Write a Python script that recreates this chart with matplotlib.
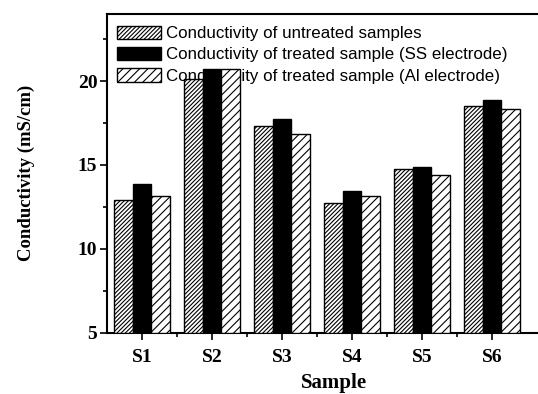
import numpy as np
import matplotlib.pyplot as plt
from matplotlib.ticker import MultipleLocator

samples = ['S1', 'S2', 'S3', 'S4', 'S5', 'S6']
untreated = [12.93, 20.13, 17.33, 12.75, 14.74, 18.53]
treated_ss = [13.87, 20.75, 17.75, 13.45, 14.86, 18.85]
treated_al = [13.15, 20.7, 16.82, 13.12, 14.43, 18.35]

labels = ['Conductivity of untreated samples',
          'Conductivity of treated sample (SS electrode)',
          'Conductivity of treated sample (Al electrode)']

plt.rcParams['hatch.linewidth'] = 0.8

fig = plt.figure(figsize=(5.38, 3.94), dpi=100)
# axes runs past the right edge of the figure
ax = fig.add_axes([107 / 538, 1 - 332.7 / 394, (561 - 107) / 538, (332.7 - 14) / 394])

x = np.arange(1, len(samples) + 1)
w = 0.267
ax.bar(x - w, np.array(untreated) - 5, w, bottom=5, color='white', edgecolor='black',
       hatch='////////', linewidth=1.0, label=labels[0], zorder=3)
ax.bar(x, np.array(treated_ss) - 5, w, bottom=5, color='black', edgecolor='black',
       linewidth=1.0, label=labels[1], zorder=3)
ax.bar(x + w, np.array(treated_al) - 5, w, bottom=5, color='white', edgecolor='black',
       hatch='////', linewidth=1.0, label=labels[2], zorder=3)

ax.set_xlim(0.5, 0.5 + 454 / 70)
ax.set_ylim(5, 24)
ax.set_xticks(x)
ax.set_xticklabels(samples)
ax.set_yticks([5, 10, 15, 20])
ax.set_xticks(x[:-1] + 0.5, minor=True)
ax.yaxis.set_minor_locator(MultipleLocator(2.5))

ax.tick_params(which='both', direction='out', width=1.2, top=False, right=False)
ax.tick_params(which='major', length=5)
ax.tick_params(which='minor', length=3)
for s in ax.spines.values():
    s.set_linewidth(1.5)

for lab in ax.get_xticklabels() + ax.get_yticklabels():
    lab.set_fontfamily('Liberation Serif')
    lab.set_fontweight('bold')
    lab.set_fontsize(14)
ax.tick_params(axis='x', pad=7)
ax.tick_params(axis='y', pad=2)

ax.set_xlabel('Sample', family='Liberation Serif', weight='bold', size=15, labelpad=5)
ax.set_ylabel('Conductivity (mS/cm)', family='Liberation Serif', weight='bold', size=13.5,
              labelpad=31)

leg = ax.legend(loc='upper left', bbox_to_anchor=(0.006, 0.985), frameon=False,
                prop=dict(family='Liberation Sans', size=12.2),
                handlelength=2.65, handleheight=0.85, handletextpad=0.3,
                labelspacing=0.33, borderaxespad=0.2, borderpad=0.2)
leg.set_zorder(1)

fig.savefig('out.png', dpi=100)
